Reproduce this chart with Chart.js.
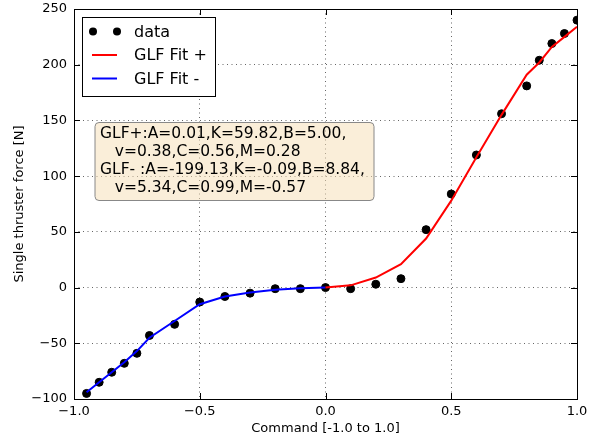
<!DOCTYPE html>
<html>
<head>
  <meta charset="utf-8">
  <title>GLF thruster fit</title>
  <style>
    body { margin: 0; background: #fff; }
    #wrap { width: 599px; height: 440px; }
  </style>
  <script src="https://cdn.jsdelivr.net/npm/chart.js@4.4.1/dist/chart.umd.min.js"></script>
</head>
<body>
  <div id="wrap"><canvas id="chart"></canvas></div>
  <script>
    // measured thrust per command
    const dataCmd = [-0.95, -0.9, -0.85, -0.8, -0.75, -0.7, -0.6, -0.5, -0.4, -0.3, -0.2, -0.1, 0.0,
                     0.1, 0.2, 0.3, 0.4, 0.5, 0.6, 0.7, 0.8, 0.85, 0.9, 0.95, 1.0];
    const dataForce = [-95, -85, -76, -68, -59, -43, -33, -13, -8, -5, -1, -1, 0,
                       -1, 3, 8, 52, 84, 119, 156, 181, 204, 219, 228, 240];

    // fitted curves
    const fitPlusCmd = [0.0, 0.1, 0.2, 0.3, 0.4, 0.5, 0.6, 0.7, 0.8, 0.85, 0.9, 0.95, 1.0];
    const fitPlusForce = [0, 2, 9, 21, 44, 78, 117, 155, 191, 202, 216, 225, 234];
    const fitMinusCmd = [-0.95, -0.9, -0.85, -0.8, -0.75, -0.7, -0.6, -0.5, -0.4, -0.3, -0.2, -0.1, 0.0];
    const fitMinusForce = [-94, -85, -76, -67, -57, -45, -30, -15, -8, -4.5, -2, -0.5, 0];

    const fitText = [
      'GLF+:A=0.01,K=59.82,B=5.00,',
      '   v=0.38,C=0.56,M=0.28',
      'GLF- :A=-199.13,K=-0.09,B=8.84,',
      '   v=5.34,C=0.99,M=-0.57'
    ];

    const FONT = '"DejaVu Sans", sans-serif';
    const toXY = (xs, ys) => xs.map((x, i) => ({ x: x, y: ys[i] }));
    const minus = s => String(s).replace('-', '\u2212');

    // frame, inward ticks, legend and text box
    const overlay = {
      id: 'overlay',
      afterDatasetsDraw(chart) {
        const ctx = chart.ctx;
        const a = chart.chartArea;
        const xs = chart.scales.x, ys = chart.scales.y;
        ctx.save();
        ctx.strokeStyle = '#000';
        ctx.lineWidth = 1;
        ctx.beginPath();
        xs.ticks.forEach(t => {
          const px = Math.round(xs.getPixelForValue(t.value)) + 0.5;
          ctx.moveTo(px, a.bottom); ctx.lineTo(px, a.bottom - 6);
          ctx.moveTo(px, a.top); ctx.lineTo(px, a.top + 6);
        });
        ys.ticks.forEach(t => {
          const py = Math.round(ys.getPixelForValue(t.value)) + 0.5;
          ctx.moveTo(a.left, py); ctx.lineTo(a.left + 6, py);
          ctx.moveTo(a.right, py); ctx.lineTo(a.right - 6, py);
        });
        ctx.stroke();
        ctx.strokeRect(Math.round(a.left) + 0.5, Math.round(a.top) + 0.5,
                       Math.round(a.right - a.left), Math.round(a.bottom - a.top));

        // legend
        const lx = a.left + 8, ly = a.top + 8;
        ctx.fillStyle = '#fff';
        ctx.fillRect(lx + 0.5, ly + 0.5, 133, 79);
        ctx.strokeRect(lx + 0.5, ly + 0.5, 133, 79);
        ctx.font = '16px ' + FONT;
        ctx.textBaseline = 'middle';
        ctx.textAlign = 'left';
        chart.data.datasets.forEach((ds, i) => {
          const y = ly + 14.5 + i * 23.5;
          if (ds.showLine) {
            ctx.strokeStyle = ds.borderColor;
            ctx.lineWidth = 2;
            ctx.beginPath();
            ctx.moveTo(lx + 10, y); ctx.lineTo(lx + 35, y);
            ctx.stroke();
          } else {
            ctx.fillStyle = ds.backgroundColor;
            [lx + 11, lx + 35].forEach(cx => {
              ctx.beginPath(); ctx.arc(cx, y, 4, 0, Math.PI * 2); ctx.fill();
            });
          }
          ctx.fillStyle = '#000';
          ctx.fillText(ds.label, lx + 52, y + 1);
        });

        // parameter box
        const bx = 95, by = 122.5, bw = 279, bh = 78;
        ctx.beginPath();
        ctx.roundRect(bx, by, bw, bh, 4);
        ctx.fillStyle = 'rgba(245, 222, 179, 0.5)';
        ctx.fill();
        ctx.strokeStyle = '#888';
        ctx.lineWidth = 1;
        ctx.stroke();
        ctx.fillStyle = '#000';
        ctx.font = '15.5px ' + FONT;
        fitText.forEach((line, i) => {
          ctx.fillText(line, bx + 5, by + 11 + i * 18.2);
        });
        ctx.restore();
      }
    };

    new Chart(document.getElementById('chart'), {
      type: 'scatter',
      data: {
        datasets: [
          {
            label: 'data',
            data: toXY(dataCmd, dataForce),
            backgroundColor: '#000',
            borderColor: '#000',
            pointRadius: 4,
            pointHoverRadius: 4,
            showLine: false,
            order: 2
          },
          {
            label: 'GLF Fit +',
            data: toXY(fitPlusCmd, fitPlusForce),
            borderColor: '#ff0000',
            backgroundColor: '#ff0000',
            borderWidth: 2,
            pointRadius: 0,
            showLine: true,
            order: 1
          },
          {
            label: 'GLF Fit -',
            data: toXY(fitMinusCmd, fitMinusForce),
            borderColor: '#0000ff',
            backgroundColor: '#0000ff',
            borderWidth: 2,
            pointRadius: 0,
            showLine: true,
            order: 1
          }
        ]
      },
      options: {
        responsive: true,
        maintainAspectRatio: false,
        animation: false,
        layout: { padding: { top: 9, right: 22, left: 0, bottom: 0 } },
        plugins: { legend: { display: false }, tooltip: { enabled: false } },
        scales: {
          x: {
            type: 'linear',
            min: -1, max: 1,
            afterFit: s => { s.height = 41; s.paddingLeft = 0; s.paddingRight = 0; },
            grid: { color: '#666', lineWidth: 1, drawTicks: false },
            border: { display: false, dash: [1, 3.5] },
            ticks: {
              stepSize: 0.5,
              padding: 5,
              color: '#000',
              font: { family: FONT, size: 13 },
              callback: v => minus(v.toFixed(1))
            },
            title: {
              display: true,
              text: 'Command [-1.0 to 1.0]',
              color: '#000',
              font: { family: FONT, size: 13 },
              padding: { top: 0, bottom: 4 }
            }
          },
          y: {
            type: 'linear',
            min: -100, max: 250,
            afterFit: s => { s.width = 74; s.paddingTop = 0; s.paddingBottom = 0; },
            grid: { color: '#666', lineWidth: 1, drawTicks: false },
            border: { display: false, dash: [1, 3.5] },
            ticks: {
              stepSize: 50,
              padding: 7,
              color: '#000',
              font: { family: FONT, size: 13 },
              callback: v => minus(v)
            },
            title: {
              display: true,
              text: 'Single thruster force [N]',
              color: '#000',
              font: { family: FONT, size: 13 },
              padding: { top: 12, bottom: 0 }
            }
          }
        }
      },
      plugins: [overlay]
    });
  </script>
</body>
</html>
